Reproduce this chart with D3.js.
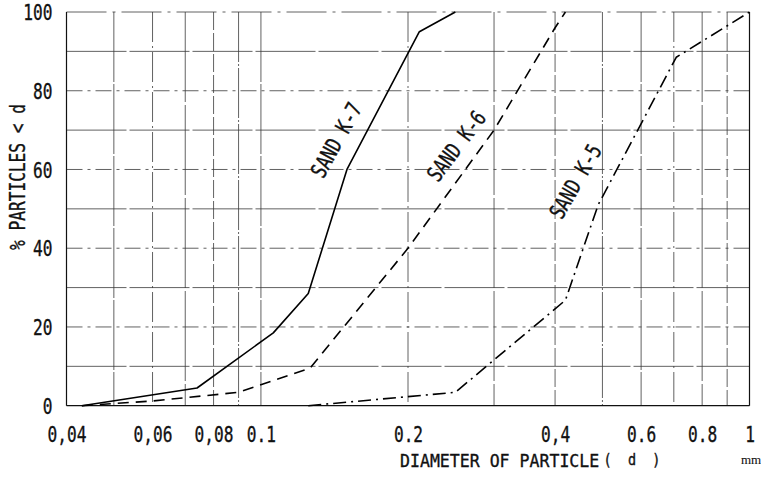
<!DOCTYPE html>
<html>
<head>
<meta charset="utf-8">
<script src="https://cdn.jsdelivr.net/npm/d3@7"></script>
<style>
  html, body { margin: 0; padding: 0; background: #fff; }
  svg { display: block; }
  text { font-family: "DejaVu Sans Mono", "Liberation Mono", monospace; fill: #111; stroke: #111; stroke-width: 0.35px; white-space: pre; }
  text.unit { font-family: "Liberation Serif", "DejaVu Serif", serif; stroke-width: 0.1px; }
</style>
</head>
<body>
<svg id="chart" width="761" height="477"></svg>
<script>
// Grain-size distribution of three sands (cumulative % finer than diameter d)
const seriesNames = ["SAND K-7", "SAND K-6", "SAND K-5"];

const k7Diameter = [0.043, 0.074, 0.106, 0.125, 0.150, 0.211, 0.250];
const k7Percent  = [0,     4.5,   18.5,  28.5,  60,    95,    100];

const k6Diameter = [0.043, 0.060, 0.090, 0.126, 0.200, 0.300, 0.400, 0.420];
const k6Percent  = [0,     1.2,   3.4,   9.5,   40,    70,    96,    100];

const k5Diameter = [0.125, 0.200, 0.250, 0.420, 0.490, 0.708, 1.000];
const k5Percent  = [0,     2.3,   3.4,   26.8,  51,    88.5,  100];

const xTicks = [0.04, 0.06, 0.08, 0.1, 0.2, 0.4, 0.6, 0.8, 1];
const xTickLabels = ["0,04", "0,06", "0,08", "0.1", "0.2", "0,4", "0.6", "0.8", "1"];
const yTicks = [0, 20, 40, 60, 80, 100];
const xGrid = [0.05, 0.06, 0.07, 0.08, 0.09, 0.1, 0.2, 0.3, 0.4, 0.5, 0.6, 0.7, 0.8, 0.9];
const yGrid = [10, 20, 30, 40, 50, 60, 70, 80, 90, 100];

const svg = d3.select("#chart");
const plotLeft = 66.5, plotRight = 749.5, plotTop = 12, plotBottom = 405.7;

const x = d3.scaleLog().domain([0.04, 1]).range([plotLeft, plotRight]);
const y = d3.scaleLinear().domain([0, 100]).range([plotBottom, plotTop]);

// tall, narrow lettering: monospace squeezed horizontally
const squeeze = 0.77;
const letterSize = 21;

// graph-paper grid: thin, broken rulings
const vDash = ["70,2", "30,4,2,4", "90,3", "18,3", "50,2,2,2"];
const hDash = ["16,5,3,5", "60,3"];
const grid = svg.append("g").attr("stroke", "#3a3a3a").attr("fill", "none");
grid.selectAll("line.v").data(xGrid).join("line")
  .attr("x1", d => x(d)).attr("x2", d => x(d))
  .attr("y1", plotTop).attr("y2", plotBottom)
  .attr("stroke-width", 0.8)
  .attr("stroke-dasharray", (d, i) => vDash[i % vDash.length]);
grid.selectAll("line.h").data(yGrid).join("line")
  .attr("x1", plotLeft).attr("x2", plotRight)
  .attr("y1", d => y(d)).attr("y2", d => y(d))
  .attr("stroke-width", 0.8)
  .attr("stroke-dasharray", d => d === 100 ? "40,6,3,6" : hDash[(d / 10) % 2]);

// frame: left, bottom and right edges solid
svg.append("g").attr("stroke", "#111").attr("stroke-width", 1.2)
  .call(g => {
    g.append("line").attr("x1", plotLeft).attr("x2", plotLeft).attr("y1", plotTop).attr("y2", plotBottom);
    g.append("line").attr("x1", plotLeft).attr("x2", plotRight).attr("y1", plotBottom).attr("y2", plotBottom);
    g.append("line").attr("x1", plotRight).attr("x2", plotRight).attr("y1", plotTop).attr("y2", plotBottom);
  });

// axes (labels only; the grid carries the ticks)
const xAxis = d3.axisBottom(x).tickValues(xTicks)
  .tickFormat((d, i) => xTickLabels[i]).tickSize(0).tickPadding(0);
const gx = svg.append("g").attr("transform", `translate(0,${plotBottom})`).call(xAxis);
gx.select(".domain").remove();
gx.selectAll(".tick text")
  .attr("y", 29).attr("dy", "0.36em")
  .attr("font-size", letterSize)
  .attr("text-anchor", "middle")
  .attr("transform", `scale(${squeeze},1)`);

const yAxis = d3.axisLeft(y).tickValues(yTicks).tickSize(0).tickPadding(0);
const gy = svg.append("g").attr("transform", `translate(${plotLeft},0)`).call(yAxis);
gy.select(".domain").remove();
gy.selectAll(".tick text")
  .attr("font-size", letterSize)
  .attr("x", -14 / squeeze)
  .attr("dy", "0.36em")
  .attr("text-anchor", "end")
  .attr("transform", `scale(${squeeze},1)`);
svg.selectAll(".tick text").attr("fill", "#111");
svg.selectAll("g[font-family]").attr("font-family", null).attr("font-size", null);

// curves
const line = d3.line().x(d => x(d[0])).y(d => y(d[1]));
const curves = [
  { name: seriesNames[0], d: d3.zip(k7Diameter, k7Percent), dash: null },
  { name: seriesNames[1], d: d3.zip(k6Diameter, k6Percent), dash: "11,7" },
  { name: seriesNames[2], d: d3.zip(k5Diameter, k5Percent), dash: "13,5,2,5" }
];
svg.append("g").selectAll("path").data(curves).join("path")
  .attr("d", c => line(c.d))
  .attr("fill", "none")
  .attr("stroke", "#000")
  .attr("stroke-width", 1.6)
  .attr("stroke-linejoin", "round")
  .attr("stroke-dasharray", c => c.dash);

// curve names, written along the curves
const curveLabels = [
  { text: seriesNames[0], at: [0.1425, 67.5], angle: -61 },
  { text: seriesNames[1], at: [0.251, 66], angle: -53 },
  { text: seriesNames[2], at: [0.44, 57], angle: -60 }
];
svg.append("g").selectAll("text").data(curveLabels).join("text")
  .attr("transform", d => `translate(${x(d.at[0])},${y(d.at[1])}) rotate(${d.angle}) scale(${squeeze},1)`)
  .attr("text-anchor", "middle")
  .attr("dy", "0.36em")
  .attr("font-size", 22)
  .text(d => d.text);

// axis titles
svg.append("text")
  .attr("transform", `translate(17,177) rotate(-90) scale(${squeeze},1)`)
  .attr("text-anchor", "middle")
  .attr("dy", "0.36em")
  .attr("font-size", letterSize)
  .text("% PARTICLES < d");

svg.append("text")
  .attr("transform", `translate(400,461) scale(0.92,1)`)
  .attr("dy", "0.36em")
  .attr("font-size", 18)
  .text("DIAMETER OF PARTICLE");

svg.append("text")
  .attr("transform", `translate(632,460) scale(0.9,1)`)
  .attr("text-anchor", "middle")
  .attr("dy", "0.36em")
  .attr("font-size", 15)
  .text("(  d  )");

svg.append("text")
  .attr("class", "unit")
  .attr("x", 751).attr("y", 460)
  .attr("text-anchor", "middle")
  .attr("dy", "0.3em")
  .attr("font-size", 13)
  .text("mm");
</script>
</body>
</html>
